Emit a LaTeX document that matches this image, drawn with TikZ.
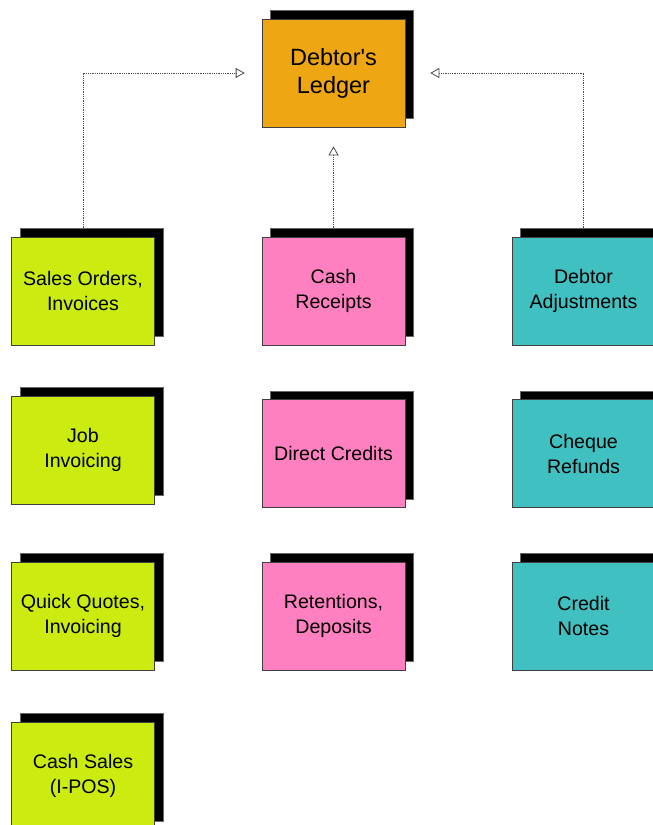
\documentclass[tikz,border=0pt]{standalone}
\usepackage{fontspec}
\setmainfont{Liberation Sans}
\usetikzlibrary{arrows.meta, shadows}
\definecolor{ledgerorange}{RGB}{238,167,18}
\definecolor{salesgreen}{RGB}{204,235,16}
\definecolor{cashpink}{RGB}{255,128,192}
\definecolor{adjustcyan}{RGB}{64,192,192}
\begin{document}
\begin{tikzpicture}[%
  x = 1pt, y = -1pt,
  box/.style = {rectangle, draw = black!75, line width = 0.6pt,
    minimum width = 143pt, minimum height = 108pt, align = center,
    font = \fontsize{19.6}{25}\selectfont,
    general shadow = {fill = black, draw = black!60,
      shadow xshift = 8.5pt, shadow yshift = 8.5pt}},
  link/.style = {densely dotted, draw = black!70, line width = 0.8pt,
    -{Triangle[open, length = 9pt, width = 10pt]}}]
  \useasboundingbox (0, 0) rectangle (653, 825);

  \node[box, fill = ledgerorange, font = \fontsize{23.5}{28}\selectfont]
    (ledger) at (333.5, 73) {Debtor\textquotesingle s\\Ledger};

  \node[box, fill = salesgreen] (sales)  at (83, 291) {Sales Orders,\\Invoices};
  \node[box, fill = salesgreen] (job)    at (83, 450) {Job\\Invoicing};
  \node[box, fill = salesgreen] (quick)  at (83, 616) {Quick Quotes,\\Invoicing};
  \node[box, fill = salesgreen] (pos)    at (83, 776) {Cash Sales\\(I-POS)};

  \node[box, fill = cashpink] (cash)     at (333.5, 291) {Cash\\Receipts};
  \node[box, fill = cashpink] (direct)   at (333.5, 453.5) {Direct Credits};
  \node[box, fill = cashpink] (retain)   at (333.5, 616) {Retentions,\\Deposits};

  \node[box, fill = adjustcyan] (adjust) at (583.5, 291) {Debtor\\Adjustments};
  \node[box, fill = adjustcyan] (cheque) at (583.5, 453.5) {Cheque\\Refunds};
  \node[box, fill = adjustcyan] (credit) at (583.5, 616) {Credit\\Notes};

  \draw[link, shorten > = 17pt] ([yshift = 8.5pt]sales.north) |- (ledger.west);
  \draw[link, shorten > = 19pt] ([yshift = 8.5pt]cash.north) -- (ledger.south);
  \draw[link, shorten > = 25pt] ([yshift = 8.5pt]adjust.north) |- (ledger.east);
\end{tikzpicture}
\end{document}
